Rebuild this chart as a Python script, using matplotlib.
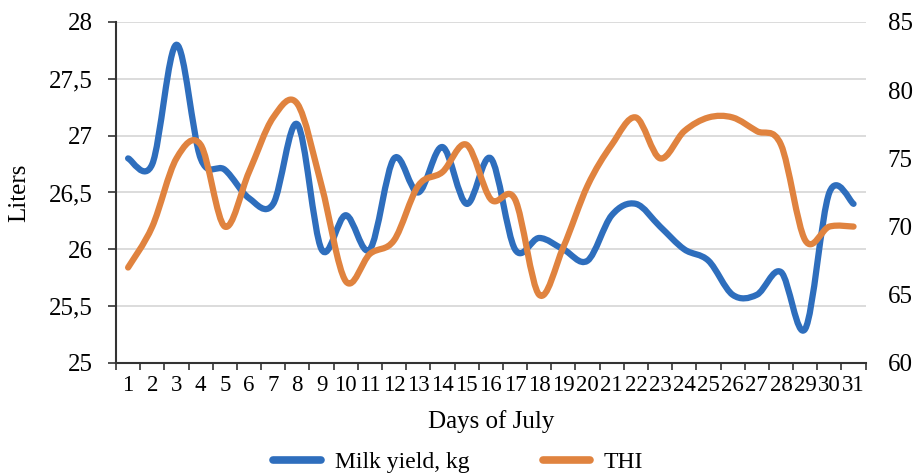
import numpy as np
import matplotlib
matplotlib.use('Agg')
import matplotlib.pyplot as plt
from matplotlib.path import Path
from matplotlib.patches import PathPatch
from matplotlib.lines import Line2D
from matplotlib.ticker import FuncFormatter

days = list(range(1, 32))
milk = [26.8, 26.75, 27.8, 26.8, 26.7, 26.45, 26.4, 27.1, 26.0, 26.3, 26.0, 26.8,
        26.5, 26.9, 26.4, 26.8, 26.0, 26.1, 26.0, 25.9, 26.3, 26.4, 26.2, 26.0,
        25.9, 25.6, 25.6, 25.8, 25.3, 26.5, 26.4]
thi = [67, 70, 75, 76, 70, 74, 78, 79, 73, 66, 68, 69,
       73, 74, 76, 72, 72, 65, 68.5, 73, 76, 78, 75, 77,
       78, 78, 77, 76, 69, 70, 70]

BLUE = '#2E6EBD'
ORANGE = '#E0833F'


def smooth_path(x, y):
    # bezier segments through every point, like a spreadsheet "smoothed line"
    pts = np.column_stack([x, y]).astype(float)
    verts = [pts[0]]
    codes = [Path.MOVETO]
    n = len(pts)
    for i in range(n - 1):
        p0 = pts[i - 1] if i > 0 else pts[i]
        p1 = pts[i]
        p2 = pts[i + 1]
        p3 = pts[i + 2] if i + 2 < n else pts[i + 1]
        c1 = p1 + (p2 - p0) / 6.0
        c2 = p2 - (p3 - p1) / 6.0
        verts += [c1, c2, p2]
        codes += [Path.CURVE4] * 3
    return Path(verts, codes)


plt.rcParams['font.family'] = ['Liberation Serif', 'DejaVu Serif']

fig = plt.figure(figsize=(9.17, 4.75), dpi=100)
ax = fig.add_axes([0.1265, 0.2358, 0.8175, 0.7179])
ax2 = ax.twinx()

ax.add_patch(PathPatch(smooth_path(days, milk), fill=False, edgecolor=BLUE,
                       lw=4.5, capstyle='round', joinstyle='round', zorder=3))
ax2.add_patch(PathPatch(smooth_path(days, thi), fill=False, edgecolor=ORANGE,
                        lw=4.5, capstyle='round', joinstyle='round', zorder=3))

ax.set_xlim(0.5, 31.5)
ax.set_ylim(25, 28)
ax2.set_ylim(60, 85)
ax.set_yticks(np.arange(25, 28.01, 0.5))
ax2.set_yticks(np.arange(60, 86, 5))
ax.yaxis.set_major_formatter(FuncFormatter(lambda v, p: ('%g' % v).replace('.', ',')))

ax.set_xticks(days)
ax.set_xticklabels([str(d) for d in days])
ax.set_xticks(np.arange(0.5, 31.6, 1), minor=True)
ax.tick_params(axis='x', which='major', length=0, pad=9, labelsize=16.5)
ax.tick_params(axis='x', which='minor', length=5, width=1.2, color='#333333')
ax.tick_params(axis='y', length=6, width=1.2, color='#333333', labelsize=18, pad=11)
ax2.tick_params(axis='y', length=0, labelsize=18, pad=16)

ax.grid(axis='y', color='#D9D9D9', lw=1.3)
ax.set_axisbelow(True)
for a in (ax, ax2):
    a.spines['top'].set_visible(False)
    a.spines['right'].set_visible(False)
ax2.spines['left'].set_visible(False)
ax2.spines['bottom'].set_visible(False)
ax.spines['left'].set_color('#333333')
ax.spines['bottom'].set_color('#333333')
ax.spines['left'].set_linewidth(1.5)
ax.spines['bottom'].set_linewidth(1.5)

ax.set_ylabel('Liters', fontsize=18, labelpad=13)
ax.set_xlabel('Days of July', fontsize=18, labelpad=10)

handles = [Line2D([], [], color=BLUE, lw=5.5, solid_capstyle='round'),
           Line2D([], [], color=ORANGE, lw=5.5, solid_capstyle='round')]
fig.legend(handles, ['Milk yield, kg', 'THI'], loc='center', bbox_to_anchor=(0.5, 0.027),
           ncol=2, frameon=False, fontsize=17, handlelength=2.0, columnspacing=3.1,
           handletextpad=0.6)

fig.savefig('out.png', dpi=100)
